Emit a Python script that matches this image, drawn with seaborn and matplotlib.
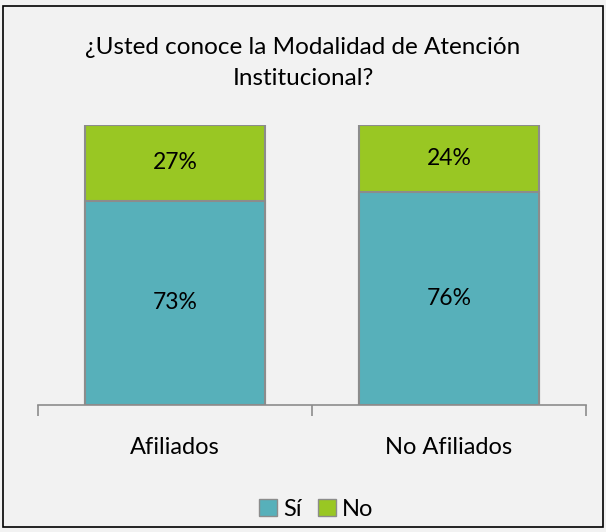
import seaborn as sns
import matplotlib.pyplot as plt
import pandas as pd
from matplotlib.patches import Rectangle, Patch

grupos = ["Afiliados", "No Afiliados"]
si = [0.73, 0.76]
no = [0.27, 0.24]
etiquetas = ["Sí", "No"]
colores = ["#57B0BA", "#99C723"]

sns.set_theme(style="white")
plt.rcParams['font.family'] = ['Lato', 'DejaVu Sans']
plt.rcParams['text.color'] = 'black'
plt.rcParams['xtick.color'] = 'black'

df = pd.DataFrame({"grupo": grupos, "Sí": si, "No": no})
df["total"] = df["Sí"] + df["No"]

fig = plt.figure(figsize=(6.06, 5.32), dpi=100, facecolor="#F2F2F2")
fig.patches.append(Rectangle((0.005, 0.009), 0.99, 0.98, transform=fig.transFigure,
                             fill=False, edgecolor="black", linewidth=1.2))
ax = fig.add_axes([38 / 606, 1 - 405 / 532, 548 / 606, 280 / 532])
ax.set_facecolor("#F2F2F2")

# stacked: draw total first, then the bottom segment
sns.barplot(data=df, x="grupo", y="total", color=colores[1], width=0.66,
            edgecolor="#8C8C8C", linewidth=1.5, ax=ax, saturation=1)
sns.barplot(data=df, x="grupo", y="Sí", color=colores[0], width=0.66,
            edgecolor="#8C8C8C", linewidth=1.5, ax=ax, saturation=1)

for i in range(len(grupos)):
    ax.text(i, si[i] / 2, f"{round(si[i] * 100)}%", ha="center", va="center", fontsize=16.5)
    ax.text(i, si[i] + no[i] / 2, f"{round(no[i] * 100)}%", ha="center", va="center", fontsize=16.5)

ax.set_xlim(-0.5, 1.5)
ax.set_ylim(0, 1)
ax.set_xlabel("")
ax.set_ylabel("")
ax.set_yticks([])
for s in ["top", "right", "left"]:
    ax.spines[s].set_visible(False)
ax.spines["bottom"].set_color("#8C8C8C")
ax.spines["bottom"].set_linewidth(1.2)
ax.set_xticks([-0.5, 0.5, 1.5], minor=False)
ax.set_xticklabels([])
ax.tick_params(axis="x", which="major", direction="out", length=8, color="#8C8C8C", width=1.2, bottom=True)
ax.set_xticks([0, 1], minor=True)
ax.set_xticklabels(grupos, minor=True, fontsize=17)
ax.tick_params(axis="x", which="minor", length=0, pad=23)

fig.text(0.5, 1 - 63 / 532, "¿Usted conoce la Modalidad de Atención\nInstitucional?",
         ha="center", va="center", fontsize=17.5, linespacing=1.62)

handles = [Patch(facecolor=c, edgecolor="#8C8C8C", label=l) for c, l in zip(colores, etiquetas)]
fig.legend(handles=handles, loc="center", bbox_to_anchor=(316 / 606, 1 - 509 / 532), ncol=2,
           frameon=False, fontsize=17, handlelength=0.75, handleheight=0.75,
           handletextpad=0.25, columnspacing=0.7)

fig.savefig("out.png", dpi=100, facecolor=fig.get_facecolor())
